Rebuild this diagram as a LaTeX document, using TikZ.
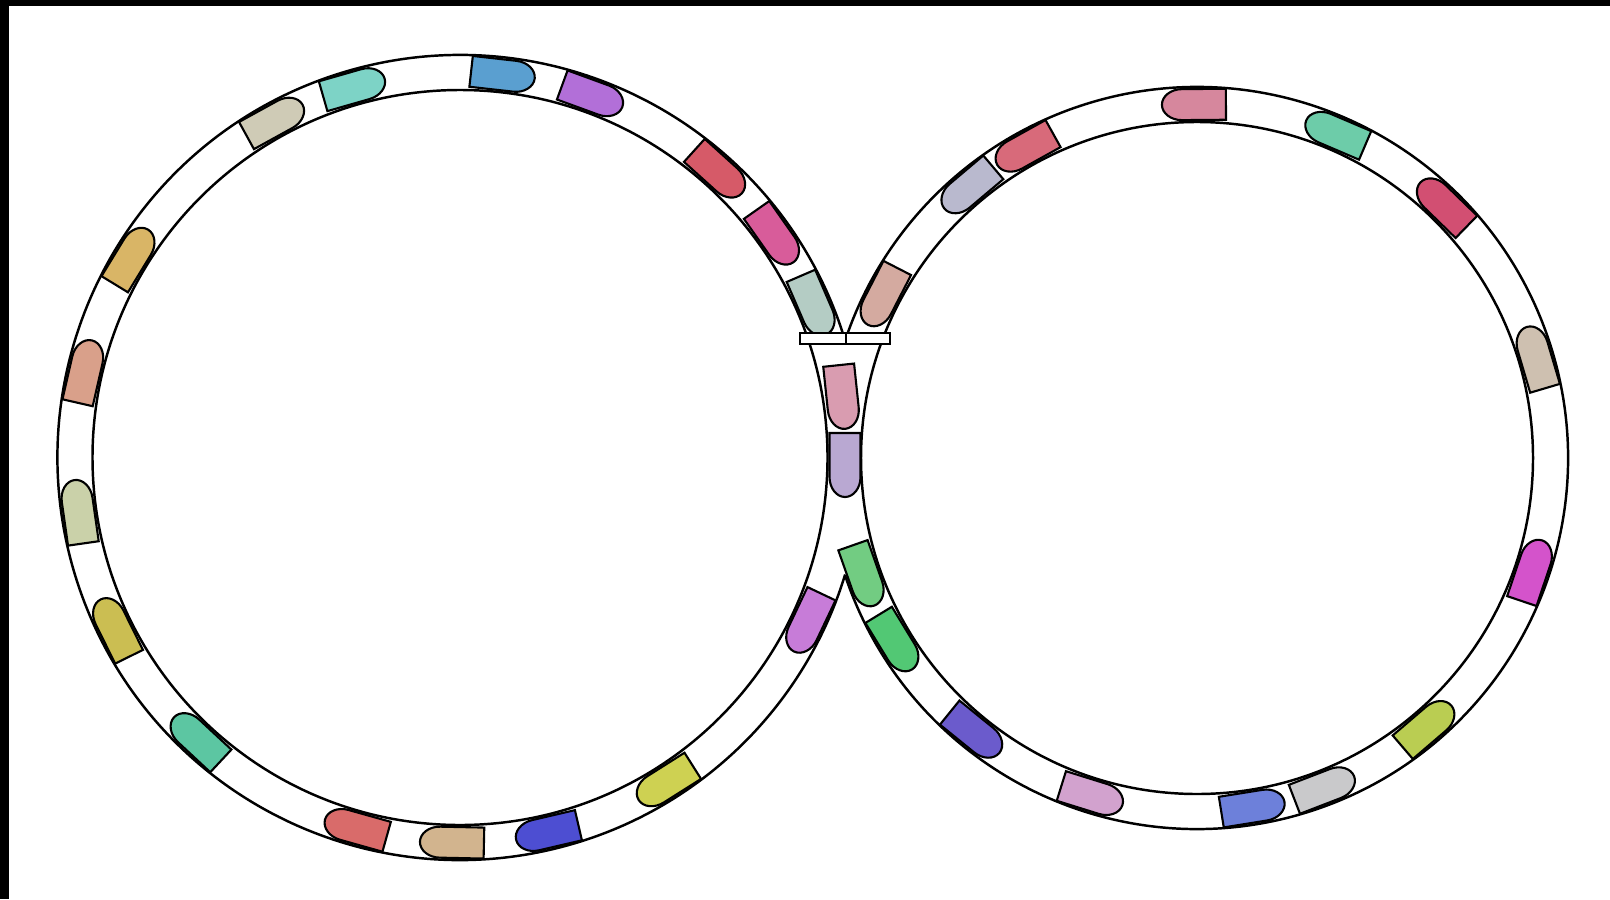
\documentclass[tikz,border=0pt]{standalone}
\usepackage{tikz}
\usepackage{xcolor}

\tikzset{
  rail/.style={line width=0.7pt},
  wagonline/.style={draw=black, line width=0.6pt},
  wagon/.pic={
    \path[pic actions] (-32,-15.5) -- (12,-15.5)
      arc[start angle=-90, end angle=90, x radius=20, y radius=15.5]
      -- (-32,15.5) -- cycle;
  }
}

\begin{document}
\begin{tikzpicture}[x=0.1mm, y=0.1mm]
  \useasboundingbox (0,0) rectangle (1610,899);
  \fill[black] (0,893) rectangle (1610,899);
  \fill[black] (0,0) rectangle (9,899);

  \coordinate (lc) at (460,441.5);
  \coordinate (rc) at (1197,441);

  % inner rails
  \draw[rail] (lc) circle[radius=367.5];
  \draw[rail] (rc) circle[radius=336];
  % outer rails, left open where the loops merge
  \draw[rail] ([shift={(lc)}]16.9:402.5) arc[start angle=16.9, end angle=343.1, radius=402.5];
  \draw[rail] ([shift={(rc)}]198.4:371) arc[start angle=198.4, end angle=521.6, radius=371];

  % left loop, clockwise
  \foreach \a/\h in {118.8/CFCBB6, 106.0/7DD3C6, 83.6/5A9FD0, 69.9/B26FD8,
                     47.9/D65A68, 35.1/D85C9A, 23.3/B4CCC4, 148.6/D9B566,
                     167.1/D9A08A, 188.1/CAD1A9, 206.3/CBBE52, 227.0/5CC6A2,
                     254.3/D96B6A, 268.8/D2B48E, 283.1/4D4ED2, 302.3/CED152,
                     334.6/C77CD8}{
    \definecolor{wagoncol}{HTML}{\h}
    \pic[wagonline, fill=wagoncol, rotate=\a-90] at ([shift={(lc)}]\a:385) {wagon};
  }
  % right loop, counterclockwise
  \foreach \a/\h in {90.5/D6879D, 119.1/D86A7A, 130.2/B9B9CE, 152.8/D4AAA0,
                     66.9/6DCCA9, 45.8/D24F72, 16.5/CEC0B0, -18.6/D453CB,
                     -49.4/BACD52, -68.9/C9C9CB, -80.9/6D80DA, 252.7/D2A2CE,
                     231.0/6B5BCC, 211.4/52C874, 199.4/72CC82}{
    \definecolor{wagoncol}{HTML}{\h}
    \pic[wagonline, fill=wagoncol, rotate=\a+90] at ([shift={(rc)}]\a:353.5) {wagon};
  }
  % shared lane
  \definecolor{midpink}{HTML}{D99CB0}
  \definecolor{midlilac}{HTML}{B9A8D2}
  \pic[wagonline, fill=midpink, rotate=-84] at (842,502) {wagon};
  \pic[wagonline, fill=midlilac, rotate=-90] at (845,434) {wagon};

  % switch
  \draw[rail, fill=white] (800,555) rectangle (890,566);
  \draw[rail] (846,555) -- (846,566);
\end{tikzpicture}
\end{document}
